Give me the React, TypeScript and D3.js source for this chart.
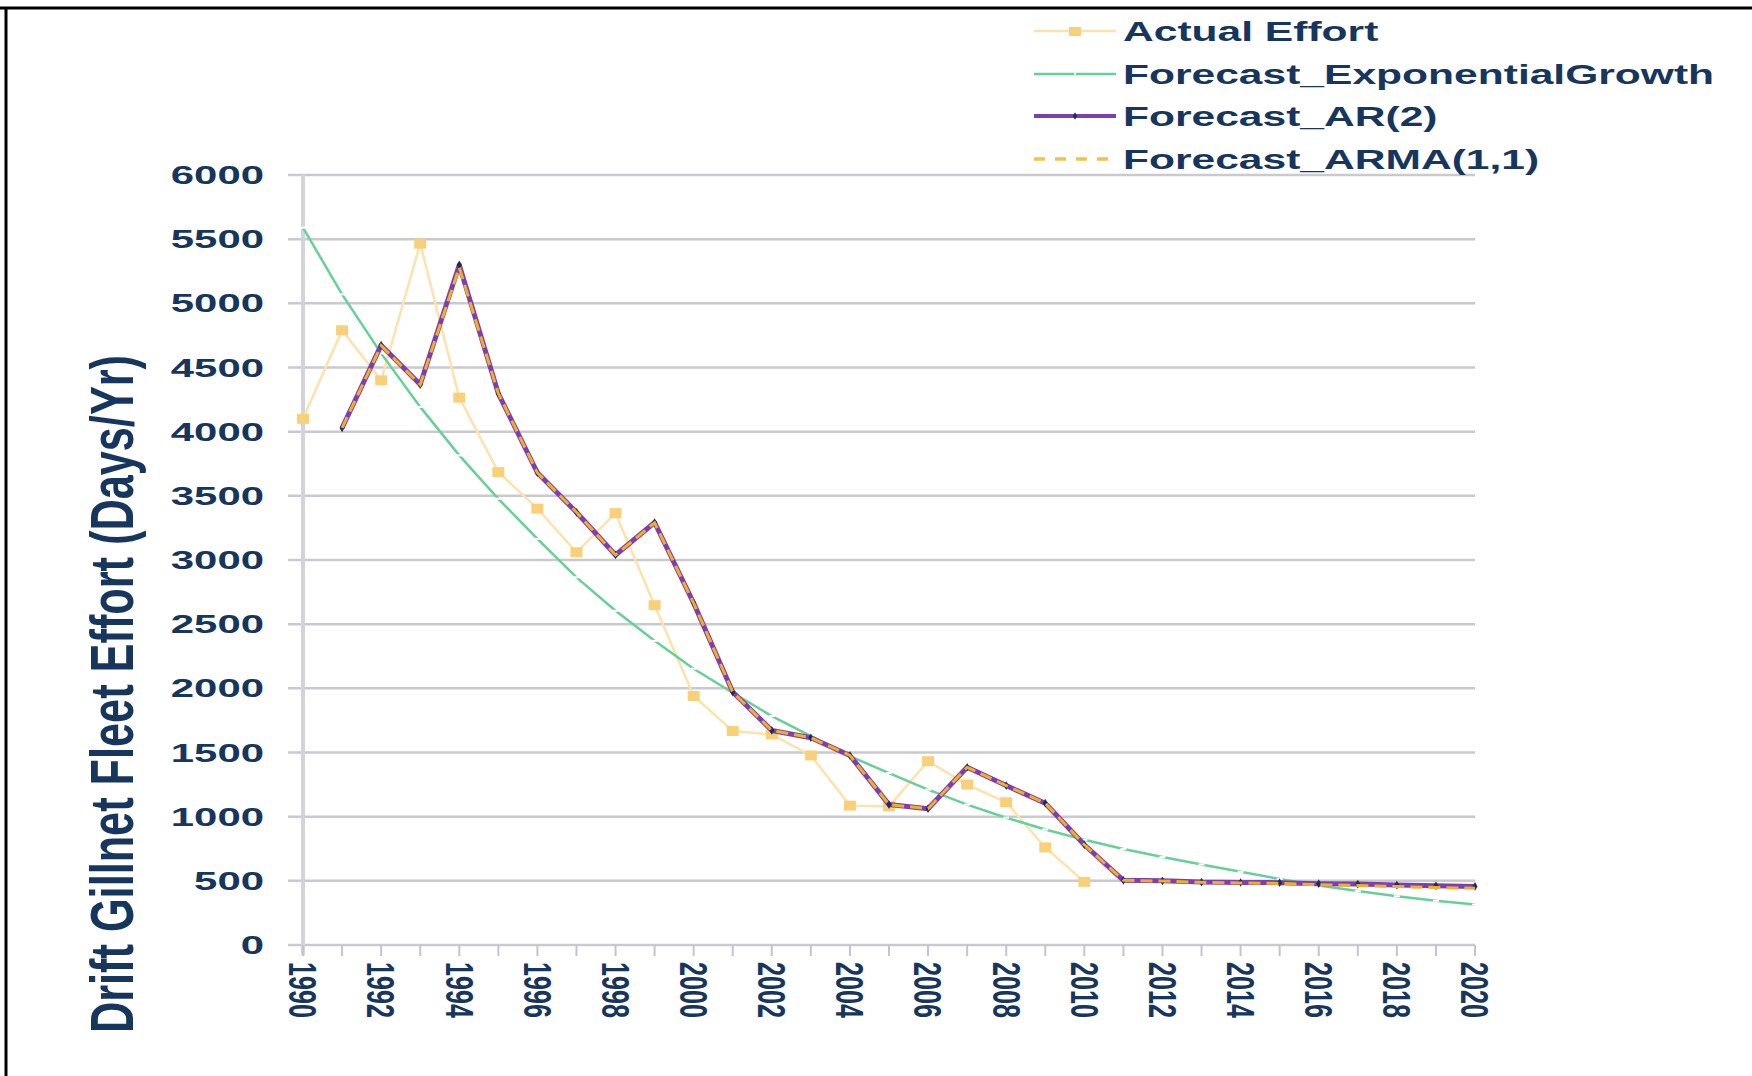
import React from 'react';
import * as d3 from 'd3';

// years on the category axis
const years = [
  1990, 1991, 1992, 1993, 1994, 1995, 1996, 1997, 1998, 1999,
  2000, 2001, 2002, 2003, 2004, 2005, 2006, 2007, 2008, 2009,
  2010, 2011, 2012, 2013, 2014, 2015, 2016, 2017, 2018, 2019, 2020,
];

const actualEffort = [
  4100, 4790, 4400, 5465, 4265, 3685, 3400, 3060, 3365, 2648,
  1940, 1667, 1641, 1477, 1086, 1080, 1432, 1250, 1112, 760,
  492, null, null, null, null, null, null, null, null, null, null,
];

const forecastExp = [
  5590, 5070, 4610, 4193, 3815, 3477, 3164, 2865, 2604, 2370,
  2153, 1966, 1784, 1628, 1471, 1340, 1211, 1094, 992, 900,
  820, 748, 685, 628, 570, 515, 463, 420, 380, 345, 315,
];

const forecastAR2 = [
  null, 4029, 4674, 4367, 5299, 4297, 3680, 3372, 3039, 3292,
  2664, 1971, 1672, 1615, 1477, 1094, 1062, 1385, 1242, 1105,
  781, 504, 500, 490, 487, 486, 478, 475, 467, 461, 456,
];

const forecastARMA = [
  null, 4029, 4670, 4367, 5280, 4297, 3680, 3372, 3039, 3290,
  2664, 1971, 1672, 1615, 1477, 1094, 1062, 1385, 1242, 1105,
  781, 504, 498, 488, 484, 480, 470, 464, 455, 448, 442,
];

const yTicks = [0, 500, 1000, 1500, 2000, 2500, 3000, 3500, 4000, 4500, 5000, 5500, 6000];
const xLabelYears = [1990, 1992, 1994, 1996, 1998, 2000, 2002, 2004, 2006, 2008, 2010, 2012, 2014, 2016, 2018, 2020];

const legendItems = [
  'Actual Effort',
  'Forecast_ExponentialGrowth',
  'Forecast_AR(2)',
  'Forecast_ARMA(1,1)',
];

const W = 1752;
const H = 1076;
const navy = '#17365d';
const gridColor = '#c9c9ce';

const x = d3.scaleLinear().domain([1990, 2020]).range([303, 1475]);
const y = d3.scaleLinear().domain([0, 6000]).range([945, 175]);

type Pt = { year: number; v: number | null };
const toPts = (vals: (number | null)[]): Pt[] => years.map((year, i) => ({ year, v: vals[i] }));

const line = d3.line<Pt>()
  .defined(d => d.v != null)
  .x(d => x(d.year))
  .y(d => y(d.v as number));

export default function App() {
  const actual = toPts(actualEffort).filter(d => d.v != null);
  const exp = toPts(forecastExp);
  const ar2 = toPts(forecastAR2).filter(d => d.v != null);
  const arma = toPts(forecastARMA);

  const legendY = [31, 74, 116, 159];
  const lx0 = 1034, lx1 = 1116, lxm = 1075;

  return (
    <svg width={W} height={H} style={{ position: 'absolute', left: 0, top: 0, background: '#fff' }}
      fontFamily="'Liberation Sans', Arial, sans-serif">
      {/* frame */}
      <line x1={0} x2={W} y1={8} y2={8} stroke="#000" strokeWidth={3} />
      <line x1={6} x2={6} y1={8} y2={H} stroke="#000" strokeWidth={3} />

      {/* gridlines */}
      {yTicks.map(t => (
        <line key={t} x1={288} x2={1475} y1={y(t)} y2={y(t)} stroke={gridColor} strokeWidth={2.5} />
      ))}
      {/* y axis */}
      <line x1={303} x2={303} y1={175} y2={955} stroke="#d3d3db" strokeWidth={4} />
      {/* x ticks */}
      {years.map(yr => (
        <line key={yr} x1={x(yr)} x2={x(yr)} y1={945} y2={956} stroke="#c4c4cc" strokeWidth={2} />
      ))}

      {/* y tick labels */}
      {yTicks.map(t => {
        const s = String(t);
        return (
          <text key={t} x={264} y={y(t) + 9} textAnchor="end" fontSize={25} fontWeight="bold" fill={navy}
            textLength={s.length * 23.3} lengthAdjust="spacingAndGlyphs">{s}</text>
        );
      })}

      {/* x tick labels */}
      {xLabelYears.map(yr => (
        <text key={yr} transform={`translate(${x(yr)},962) rotate(90)`} dy="0.36em" fontSize={38}
          fontWeight="bold" fill={navy} textLength={56} lengthAdjust="spacingAndGlyphs">{yr}</text>
      ))}

      {/* y axis title */}
      <text transform="translate(133,1033) rotate(-90)" fontSize={62} fontWeight="bold" fill={navy}
        textLength={678} lengthAdjust="spacingAndGlyphs">Drift Gillnet Fleet Effort (Days/Yr)</text>

      {/* actual effort */}
      <path d={line(actual) || ''} fill="none" stroke="#fde2ab" strokeWidth={2.5} />
      {actual.map(d => (
        <rect key={d.year} x={x(d.year) - 6} y={y(d.v as number) - 5} width={12} height={10} fill="#f9d07a" />
      ))}

      {/* exponential growth */}
      <path d={line(exp) || ''} fill="none" stroke="#66d197" strokeWidth={2.5} />
      {exp.map(d => (
        <line key={d.year} x1={x(d.year) - 3} x2={x(d.year) + 3} y1={y(d.v as number)} y2={y(d.v as number)}
          stroke="#fff" strokeWidth={2} />
      ))}

      {/* AR(2) */}
      <path d={line(ar2) || ''} fill="none" stroke="#7b3fb3" strokeWidth={5} strokeLinejoin="round" />
      {ar2.map(d => (
        <path key={d.year} d={d3.symbol(d3.symbolDiamond, 22)() || ''}
          transform={`translate(${x(d.year)},${y(d.v as number)})`} fill="#1e2d52" />
      ))}

      {/* ARMA(1,1) */}
      <path d={line(arma) || ''} fill="none" stroke="#f2ad2a" strokeWidth={3} strokeDasharray="12,6" />

      {/* legend */}
      <g>
        <line x1={lx0} x2={lx1} y1={legendY[0]} y2={legendY[0]} stroke="#fde2ab" strokeWidth={2.5} />
        <rect x={lxm - 6} y={legendY[0] - 4} width={12} height={9} fill="#f9d07a" />
        <line x1={lx0} x2={lx1} y1={legendY[1]} y2={legendY[1]} stroke="#66d197" strokeWidth={2.5} />
        <line x1={lxm} x2={lxm} y1={legendY[1] - 3} y2={legendY[1] + 3} stroke="#fff" strokeWidth={1.5} />
        <line x1={lx0} x2={lx1} y1={legendY[2]} y2={legendY[2]} stroke="#7b3fb3" strokeWidth={4} />
        <path d={d3.symbol(d3.symbolDiamond, 16)() || ''} transform={`translate(${lxm},${legendY[2]})`} fill="#1e2d52" />
        <line x1={lx0} x2={lx1} y1={legendY[3]} y2={legendY[3]} stroke="#f2c244" strokeWidth={3.5} strokeDasharray="11,10" />
        {legendItems.map((label, i) => (
          <text key={label} transform={`translate(1123,${legendY[i] + 10}) scale(1.52,1)`} fontSize={28}
            fontWeight="bold" fill={navy}>{label}</text>
        ))}
      </g>
    </svg>
  );
}
